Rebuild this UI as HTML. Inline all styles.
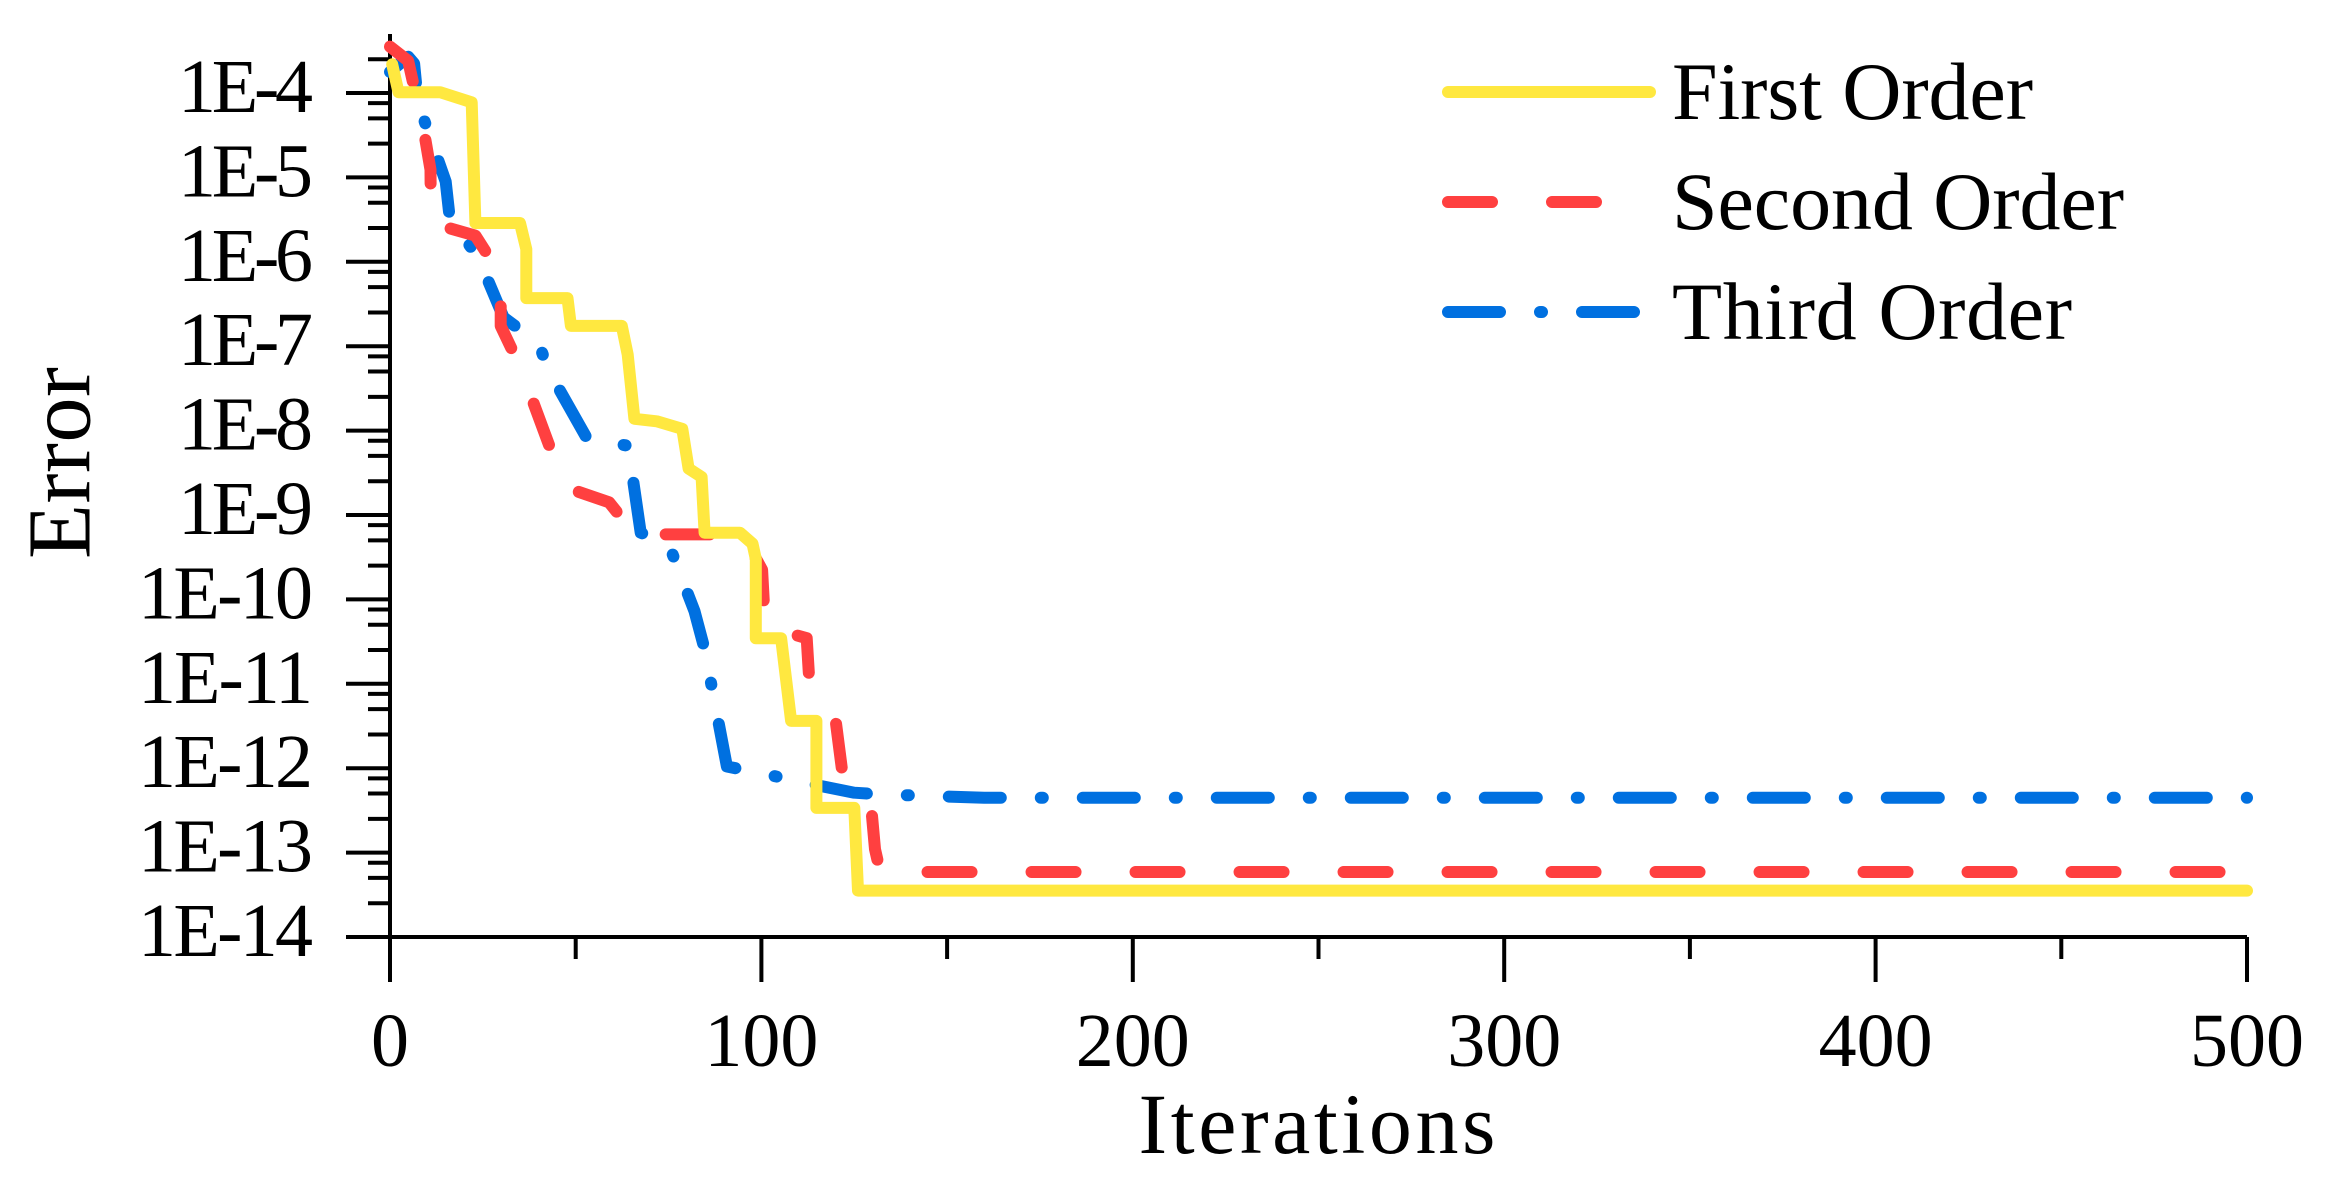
<!DOCTYPE html>
<html><head><meta charset="utf-8"><style>
html,body{margin:0;padding:0;background:#fff;}
svg{display:block;font-family:"Liberation Serif",serif;}
</style></head><body>
<svg id="chart" width="2333" height="1184" viewBox="0 0 2333 1184" xmlns="http://www.w3.org/2000/svg">
<g id="axes"></g>
<g id="series"></g>
<text x="60" y="463" transform="rotate(-90 60 463)" text-anchor="middle" dominant-baseline="central" font-size="90" textLength="192">Error</text>
<text x="1317" y="1153" text-anchor="middle" font-size="86" textLength="357">Iterations</text>
<g>
<g>
<line x1="1448" y1="92" x2="1650" y2="92" stroke="#FFE840" stroke-width="12" stroke-linecap="round"/>
<text x="1672" y="119" font-size="82" textLength="361">First Order</text></g>
<g>
<line x1="1448" y1="202" x2="1650" y2="202" stroke="#FF4040" stroke-width="12" stroke-linecap="round" stroke-dasharray="44 60"/>
<text x="1672" y="229" font-size="82" textLength="452">Second Order</text></g>
<g>
<line x1="1448" y1="312" x2="1650" y2="312" stroke="#0070E0" stroke-width="12" stroke-linecap="round" stroke-dasharray="52 40 2 40"/>
<text x="1672" y="339" font-size="82" textLength="400">Third Order</text></g>
</g>
</svg>
<script>
const xTicks=[0,100,200,300,400,500];
const xMinorTicks=[50,150,250,350,450];
const yTickExps=[-4,-5,-6,-7,-8,-9,-10,-11,-12,-13,-14];
const firstX=[0.6,2.3,13.5,22,23,35,36.7,36.7,47.8,48.7,62.4,64,65.8,71.8,78.7,80.4,83.9,84.7,94.2,97.6,98.5,98.5,105.3,108,114.8,114.8,125,126,500];
const firstLog=[-3.66,-3.99,-3.99,-4.11,-5.54,-5.54,-5.85,-6.43,-6.43,-6.76,-6.76,-7.10,-7.86,-7.89,-7.98,-8.45,-8.55,-9.21,-9.21,-9.34,-9.52,-10.46,-10.46,-11.44,-11.44,-12.47,-12.47,-13.45,-13.45];
const secondX=[0,4.9,9.2,10.9,11,23,29.8,29.8,35,47,59,65.9,95,100.2,101,112.2,113,120,121.7,129.4,130.6,132,500];
const secondLog=[-3.45,-3.62,-4.47,-4.91,-5.54,-5.69,-6.16,-6.76,-7.24,-8.67,-8.85,-9.23,-9.23,-9.65,-10.32,-10.46,-11.04,-11.44,-12.02,-12.38,-12.96,-13.23,-13.23];
const thirdX=[0,4.9,6.5,7.5,15,16.1,23.7,30.6,40.1,42.6,53,64.1,67.5,75,82,84.7,90.7,101,114.8,125,132,160,500];
const thirdLog=[-3.75,-3.57,-3.65,-4.11,-5.05,-5.49,-5.94,-6.66,-6.97,-7.28,-8.09,-8.18,-9.21,-9.34,-10.14,-10.59,-11.98,-12.07,-12.2,-12.29,-12.31,-12.35,-12.35];

const NS='http://www.w3.org/2000/svg';
const X0=390,X1=2247,Y4=93,DEC=84.4;
function sx(v){return X0+(X1-X0)*v/500;}
function sy(l){return Y4+(-4-l)*DEC;}
const axes=document.getElementById('axes');
const series=document.getElementById('series');
function mk(tag,attrs,parent){const e=document.createElementNS(NS,tag);for(const k in attrs)e.setAttribute(k,attrs[k]);parent.appendChild(e);return e;}
const yBot=sy(-14),yTop=34;
let a=mk('line',{x1:X0,y1:yTop,x2:X0,y2:yBot+45,stroke:'#000','stroke-width':4},axes);


a=mk('line',{x1:X0-44,y1:yBot,x2:X1,y2:yBot,stroke:'#000','stroke-width':4},axes);


xTicks.forEach(v=>{
 const t=mk('line',{x1:sx(v),y1:yBot,x2:sx(v),y2:yBot+45,stroke:'#000','stroke-width':4},axes);
 
 
 const l=mk('text',{x:sx(v),y:1066,'text-anchor':'middle','font-size':76},axes);
 l.textContent=String(v);
 
 
});
xMinorTicks.forEach(v=>{
 const t=mk('line',{x1:sx(v),y1:yBot,x2:sx(v),y2:yBot+22,stroke:'#000','stroke-width':4},axes);
 
 
});
yTickExps.forEach(e=>{
 const y=sy(e);
 const t=mk('line',{x1:X0-44,y1:y,x2:X0,y2:y,stroke:'#000','stroke-width':4},axes);
 
 
 const l=mk('text',{x:313,y:y+19,'text-anchor':'end','font-size':76,textLength:175},axes);
 l.textContent='1E'+e;
 if(e>-10)l.setAttribute('textLength','135');
 
 
 for(const f of [0.4,0.7,0.88]){
  const yy=y-f*DEC; if(yy<yTop)continue;
  const m=mk('line',{x1:X0-22,y1:yy,x2:X0,y2:yy,stroke:'#000','stroke-width':4},axes);
  
  
 }
});
function draw(xs,ls,color,dash,name){
 const d=xs.map((v,i)=>(i?'L':'M')+sx(v).toFixed(1)+' '+sy(ls[i]).toFixed(1)).join(' ');
 const attrs={d:d,fill:'none',stroke:color,'stroke-width':12,'stroke-linecap':'round','stroke-linejoin':'round'};
 if(dash)attrs['stroke-dasharray']=dash;
 const p=mk('path',attrs,series);
 
 
}
draw(thirdX,thirdLog,'#0070E0','52 40 2 40','third-order-line');
draw(secondX,secondLog,'#FF4040','44 60','second-order-line');
draw(firstX,firstLog,'#FFE840',null,'first-order-line');
</script>
</body></html>
